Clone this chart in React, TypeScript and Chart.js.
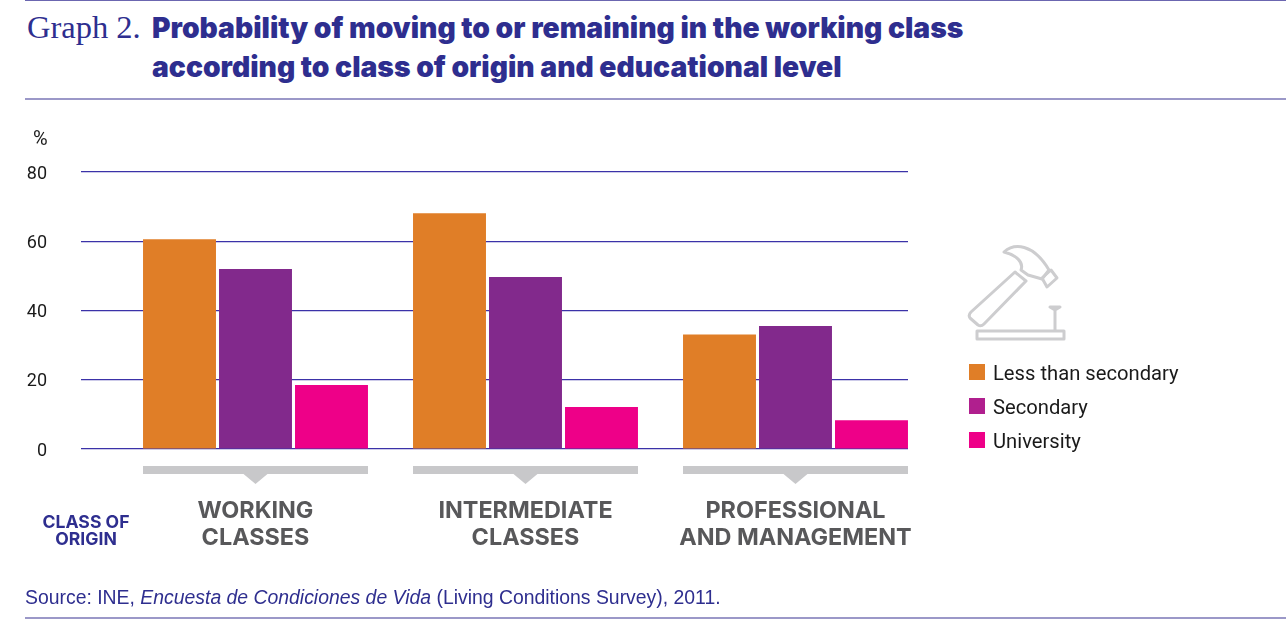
import React, { useEffect, useRef } from 'react';
import Chart from 'chart.js/auto';

// === Data ===
const classLabels = [
  ['WORKING', 'CLASSES'],
  ['INTERMEDIATE', 'CLASSES'],
  ['PROFESSIONAL', 'AND MANAGEMENT'],
];
const classPositions = [0, 1, 2];
const seriesNames = ['Less than secondary', 'Secondary', 'University'];
const lessThanSecondary = [60.6, 68.1, 33.1];
const secondary = [52, 49.7, 35.5];
const university = [18.5, 12.1, 8.3];
const yTicks = [0, 20, 40, 60, 80];

const barColors = ['#e07e27', '#82298c', '#ee0088'];
const legendColors = ['#e07e27', '#b01f8e', '#ee0088'];
const BLUE = '#2e2e8f';
const RULE = '#9b98c8';
const GREY = '#c8c8ca';

// === Brackets under each group, tied to the x scale ===
const bracketPlugin = {
  id: 'brackets',
  afterDraw(chart: any) {
    const { ctx, scales } = chart;
    const x = scales.x;
    ctx.save();
    ctx.fillStyle = GREY;
    classPositions.forEach((p) => {
      const c = x.getPixelForValue(p);
      ctx.fillRect(c - 112.5, 466, 225, 8);
      ctx.beginPath();
      ctx.moveTo(c - 12, 474);
      ctx.lineTo(c + 12, 474);
      ctx.lineTo(c, 484);
      ctx.closePath();
      ctx.fill();
    });
    ctx.restore();
  },
};

const textAt = (left: number, top: number, extra: React.CSSProperties = {}): React.CSSProperties => ({
  position: 'absolute',
  left,
  top,
  whiteSpace: 'nowrap',
  ...extra,
});

const HammerIcon = () => (
  <svg
    width={1286}
    height={628}
    viewBox="0 0 1286 628"
    style={{ position: 'absolute', left: 0, top: 0 }}
    fill="none"
    stroke="#cdcdcf"
    strokeWidth={3}
    strokeLinejoin="round"
  >
    <path d="M1015 272 L1026 281 L984 324 Q981 327 978 325 L970 318 Q968 315 971 312 Z" />
    <path d="M1004 252 C1014 243 1033 243 1049 270 L1042 279 L1028 275 L1021 270 C1024 262 1016 255 1004 252 Z" />
    <path d="M1042 278 L1051 270 L1057 278 L1047 287 Z" />
    <path d="M1050 307 L1060 307 L1055 310 Z M1055 310 L1055 330" />
    <rect x={977} y={331} width={87} height={8} />
  </svg>
);

export default function App() {
  const canvasRef = useRef<HTMLCanvasElement>(null);

  useEffect(() => {
    if (!canvasRef.current) return;
    const series = [lessThanSecondary, secondary, university];
    const chart = new Chart(canvasRef.current, {
      type: 'bar',
      data: {
        datasets: series.map((values, i) => ({
          label: seriesNames[i],
          data: values.map((v, j) => ({ x: classPositions[j], y: v })),
          backgroundColor: barColors[i],
          categoryPercentage: 0.8444,
          barPercentage: 0.96,
        })),
      },
      plugins: [bracketPlugin],
      options: {
        responsive: false,
        animation: false,
        layout: { padding: { top: 172, right: 378, left: 0, bottom: 0 } },
        plugins: { legend: { display: false }, tooltip: { enabled: false } },
        scales: {
          x: {
            type: 'linear',
            offset: false,
            min: -0.6463,
            max: 2.4167,
            grid: { display: false, offset: false },
            border: { display: false },
            afterFit: (s: any) => {
              s.height = 179;
            },
            afterBuildTicks: (s: any) => {
              s.ticks = classPositions.map((value) => ({ value }));
            },
            ticks: {
              autoSkip: false,
              maxRotation: 0,
              padding: 40,
              callback: (v: any) => classLabels[v],
              color: '#58585a',
              font: { family: 'Inter', size: 23.4, weight: 'bold', lineHeight: 1.155 },
            },
          },
          y: {
            min: 0,
            max: 80,
            afterFit: (s: any) => {
              s.width = 81;
            },
            afterBuildTicks: (s: any) => {
              s.ticks = yTicks.map((value) => ({ value }));
            },
            grid: { color: '#3b32a8', lineWidth: 1.2, drawTicks: false },
            border: { display: false },
            ticks: {
              padding: 34,
              labelOffset: 2,
              color: '#1a1a1a',
              font: { family: 'Roboto', size: 18 },
            },
          },
        },
      } as any,
    });
    return () => chart.destroy();
  }, []);

  return (
    <div style={{ position: 'absolute', left: 0, top: 0, width: 1286, height: 628, background: '#fff', overflow: 'hidden' }}>
      <div style={{ position: 'absolute', left: 25, right: 0, top: 0, height: 1, background: '#6b66b0' }} />
      <div style={{ position: 'absolute', left: 25, right: 0, top: 98, height: 2, background: RULE }} />
      <div style={{ position: 'absolute', left: 25, right: 0, top: 617, height: 2, background: RULE }} />

      <div style={textAt(27, 8, { fontFamily: '"Liberation Serif"', fontSize: 32.5, color: BLUE, lineHeight: '38px' })}>Graph 2.</div>
      <div style={textAt(152, 9, { fontFamily: 'Inter', fontWeight: 900, fontSize: 28.25, color: BLUE, lineHeight: '39px' })}>
        Probability of moving to or remaining in the working class
        <br />
        according to class of origin and educational level
      </div>

      <canvas ref={canvasRef} width={1286} height={628} style={{ position: 'absolute', left: 0, top: 0 }} />

      <div style={textAt(33, 127, { fontFamily: 'Roboto', fontSize: 20, color: '#1a1a1a', lineHeight: '22px' })}>%</div>

      <div
        style={textAt(36, 514, {
          width: 100,
          textAlign: 'center',
          fontFamily: 'Inter',
          fontWeight: 700,
          fontSize: 17.6,
          lineHeight: '16.5px',
          color: BLUE,
        })}
      >
        CLASS OF
        <br />
        ORIGIN
      </div>

      <HammerIcon />

      {seriesNames.map((name, i) => (
        <React.Fragment key={name}>
          <div style={{ position: 'absolute', left: 969, top: 364 + i * 34, width: 16, height: 16, background: legendColors[i] }} />
          <div style={textAt(993, 361 + i * 34, { fontFamily: 'Roboto', fontSize: 20.2, color: '#1a1a1a', lineHeight: '24px' })}>{name}</div>
        </React.Fragment>
      ))}

      <div style={textAt(25, 585, { fontFamily: '"Liberation Sans"', fontSize: 19.4, color: BLUE, lineHeight: '24px' })}>
        Source: INE, <i>Encuesta de Condiciones de Vida</i> (Living Conditions Survey), 2011.
      </div>
    </div>
  );
}
